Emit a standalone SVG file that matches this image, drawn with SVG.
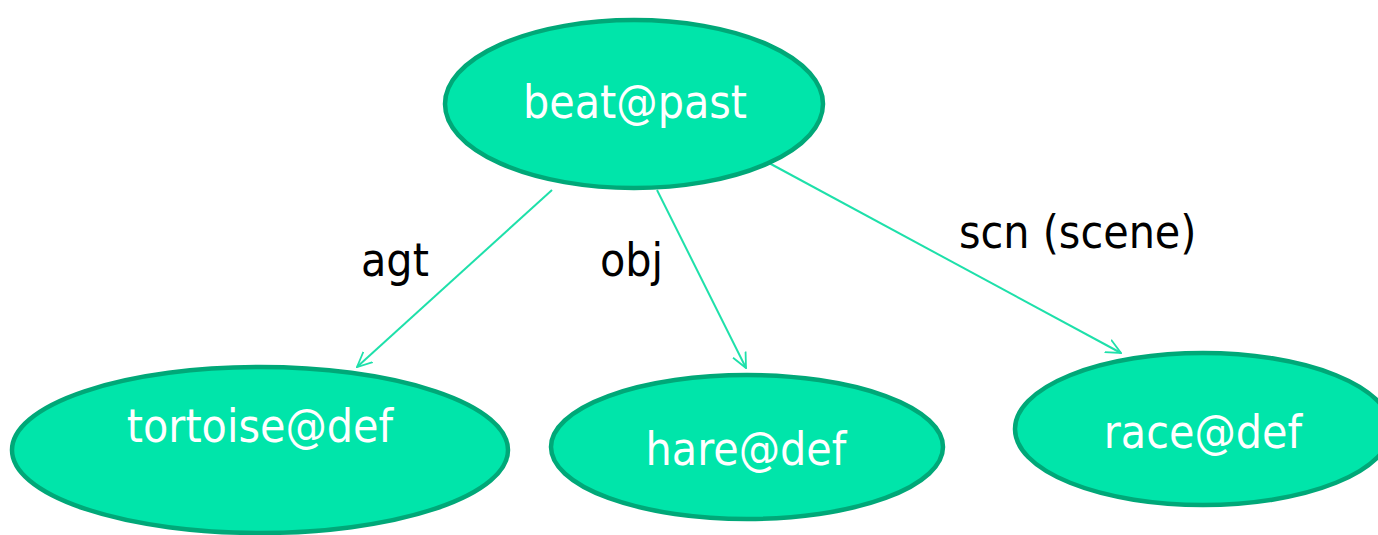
<svg xmlns="http://www.w3.org/2000/svg" width="1378" height="535" viewBox="0 0 1378 535">
<style>
.node ellipse{fill:#00E5AA;stroke:#00A878;stroke-width:4.5}
.node text{fill:#ffffff;font-family:"DejaVu Sans Condensed","DejaVu Sans",sans-serif;font-size:46px;text-anchor:middle}
.edge{stroke:#1EE0AA;stroke-width:2;fill:none;marker-end:url(#arr)}
.lbl{fill:#000;font-family:"DejaVu Sans Condensed","DejaVu Sans",sans-serif;font-size:46px}
</style>
<defs>
<marker id="arr" viewBox="0 0 16 16" refX="15" refY="8" markerWidth="16" markerHeight="16" markerUnits="userSpaceOnUse" orient="auto">
<path d="M0,1 L15,8 L0,15" fill="none" stroke="#1EE0AA" stroke-width="1.8"/>
</marker>
</defs>
<g id="connectors">
<line class="edge" x1="552" y1="190" x2="357" y2="367"/>
<line class="edge" x1="657" y1="190" x2="746" y2="368"/>
<line class="edge" x1="769" y1="163" x2="1121" y2="353"/>
<text class="lbl" x="361" y="276">agt</text>
<text class="lbl" x="600" y="276">obj</text>
<text class="lbl" x="959" y="248">scn (scene)</text>
</g>
<g id="beat" class="node"><ellipse cx="634" cy="104" rx="189" ry="84"/><text x="635" y="118">beat@past</text></g>
<g id="tortoise" class="node"><ellipse cx="260" cy="450" rx="248" ry="83"/><text x="260" y="442">tortoise@def</text></g>
<g id="hare" class="node"><ellipse cx="747" cy="447" rx="196" ry="72"/><text x="746" y="465">hare@def</text></g>
<g id="race" class="node"><ellipse cx="1203" cy="429" rx="188" ry="76"/><text x="1203" y="448">race@def</text></g>
</svg>
